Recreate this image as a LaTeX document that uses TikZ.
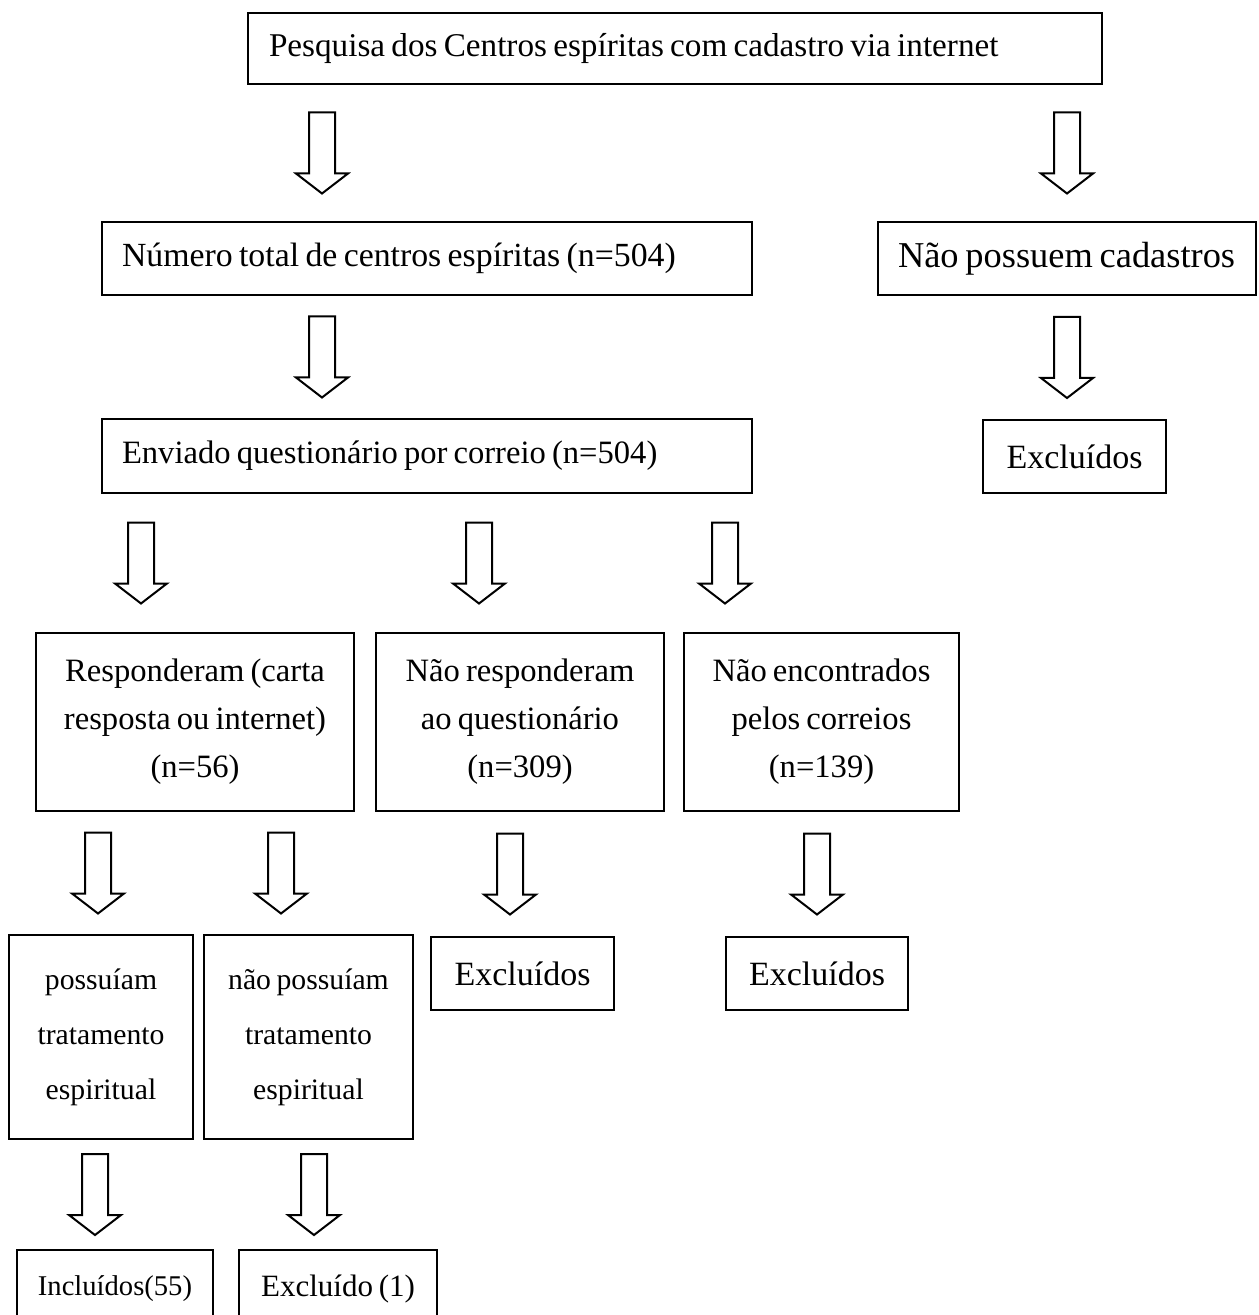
\documentclass[tikz,border=0pt]{standalone}
\usepackage{fontspec}
\setmainfont[WordSpace=0.75]{Liberation Serif}
\usetikzlibrary{calc}

\begin{document}
\begin{tikzpicture}[x=0.5pt, y=-0.5pt]
        \tikzstyle Box Line=[draw, line width=1.1pt, inner sep=0pt, outer sep=0pt, anchor=north west]
        \tikzstyle Left Box=[Box Line, align=flush left, inner xsep=10pt]
        \tikzstyle Centre Box=[Box Line, align=center]
        \tikzset{Block Arrow/.style={draw, line width=1pt, fill=white, to path={
            let \p1=(\tikztostart.south), \p2=(\tikztotarget.north), \p3=(#1,0),
                \n1={(\y1+\y2)/2} in
            (\x3-6.5pt,\n1+20.25pt) -- (\x3+6.5pt,\n1+20.25pt) -- (\x3+6.5pt,\n1-10.25pt)
            -- (\x3+13pt,\n1-10.25pt) -- (\x3,\n1-20.25pt) -- (\x3-13pt,\n1-10.25pt)
            -- (\x3-6.5pt,\n1-10.25pt) -- cycle}}}

        \useasboundingbox (0,0) rectangle (1258,1315);

        % boxes
        \node[Left Box, inner xsep=10.5pt, text width=406pt, minimum height=35.5pt,
            font=\fontsize{16.6}{20}\selectfont] (top) at (248,13)
            {Pesquisa dos Centros espíritas com cadastro via internet};
        \node[Left Box, text width=305pt, minimum height=36.5pt,
            font=\fontsize{16.9}{20}\selectfont] (total) at (102,222)
            {Número total de centros espíritas (n=504)};
        \node[Left Box, text width=169pt, minimum height=36.5pt,
            font=\fontsize{18.2}{22}\selectfont] (semcad) at (878,222)
            {\mbox{Não possuem cadastros}};
        \node[Left Box, text width=305pt, minimum height=37pt,
            font=\fontsize{16.3}{20}\selectfont] (enviado) at (102,419)
            {Enviado questionário por correio (n=504)};
        \node[Centre Box, minimum width=91.5pt, minimum height=36.5pt,
            font=\fontsize{17}{20}\selectfont] (exclA) at (983,420) {Excluídos};

        \node[Centre Box, minimum width=159pt, minimum height=89pt,
            font=\fontsize{16.3}{24}\selectfont] (resp) at (36,633)
            {Responderam (carta\\resposta ou internet)\\(n=56)};
        \node[Centre Box, minimum width=144pt, minimum height=89pt,
            font=\fontsize{16.3}{24}\selectfont] (naoresp) at (376,633)
            {Não responderam\\ao questionário\\(n=309)};
        \node[Centre Box, minimum width=137.5pt, minimum height=89pt,
            font=\fontsize{16.3}{24}\selectfont] (naoenc) at (684,633)
            {Não encontrados\\pelos correios\\(n=139)};

        \node[Centre Box, minimum width=92pt, minimum height=102pt,
            font=\fontsize{14.85}{27.5}\selectfont] (poss) at (9,935)
            {possuíam\\tratamento\\espiritual};
        \node[Centre Box, minimum width=104.5pt, minimum height=102pt,
            font=\fontsize{14.85}{27.5}\selectfont] (naoposs) at (204,935)
            {não possuíam\\tratamento\\espiritual};
        \node[Centre Box, minimum width=91.5pt, minimum height=36.5pt,
            font=\fontsize{17}{20}\selectfont] (exclB) at (431,937) {Excluídos};
        \node[Centre Box, minimum width=91pt, minimum height=36.5pt,
            font=\fontsize{17}{20}\selectfont] (exclC) at (726,937) {Excluídos};

        \node[Centre Box, minimum width=98pt, minimum height=39pt,
            font=\fontsize{14.3}{18}\selectfont] (incl) at (17,1250) {Incluídos(55)};
        \node[Centre Box, minimum width=99pt, minimum height=39pt,
            font=\fontsize{15.5}{18}\selectfont] (exclD) at (239,1250) {Excluído (1)};

        % arrows
        \draw[Block Arrow=322] (top) to (total);
        \draw[Block Arrow=1067] (top) to (semcad);
        \draw[Block Arrow=322] (total) to (enviado);
        \draw[Block Arrow=1067] (semcad) to (exclA);
        \draw[Block Arrow=141] (enviado) to (resp);
        \draw[Block Arrow=479] (enviado) to (naoresp);
        \draw[Block Arrow=725] (enviado) to (naoenc);
        \draw[Block Arrow=98] (resp) to (poss);
        \draw[Block Arrow=281] (resp) to (naoposs);
        \draw[Block Arrow=510] (naoresp) to (exclB);
        \draw[Block Arrow=817] (naoenc) to (exclC);
        \draw[Block Arrow=95] (poss) to (incl);
        \draw[Block Arrow=314] (naoposs) to (exclD);
    \end{tikzpicture}
\end{document}
